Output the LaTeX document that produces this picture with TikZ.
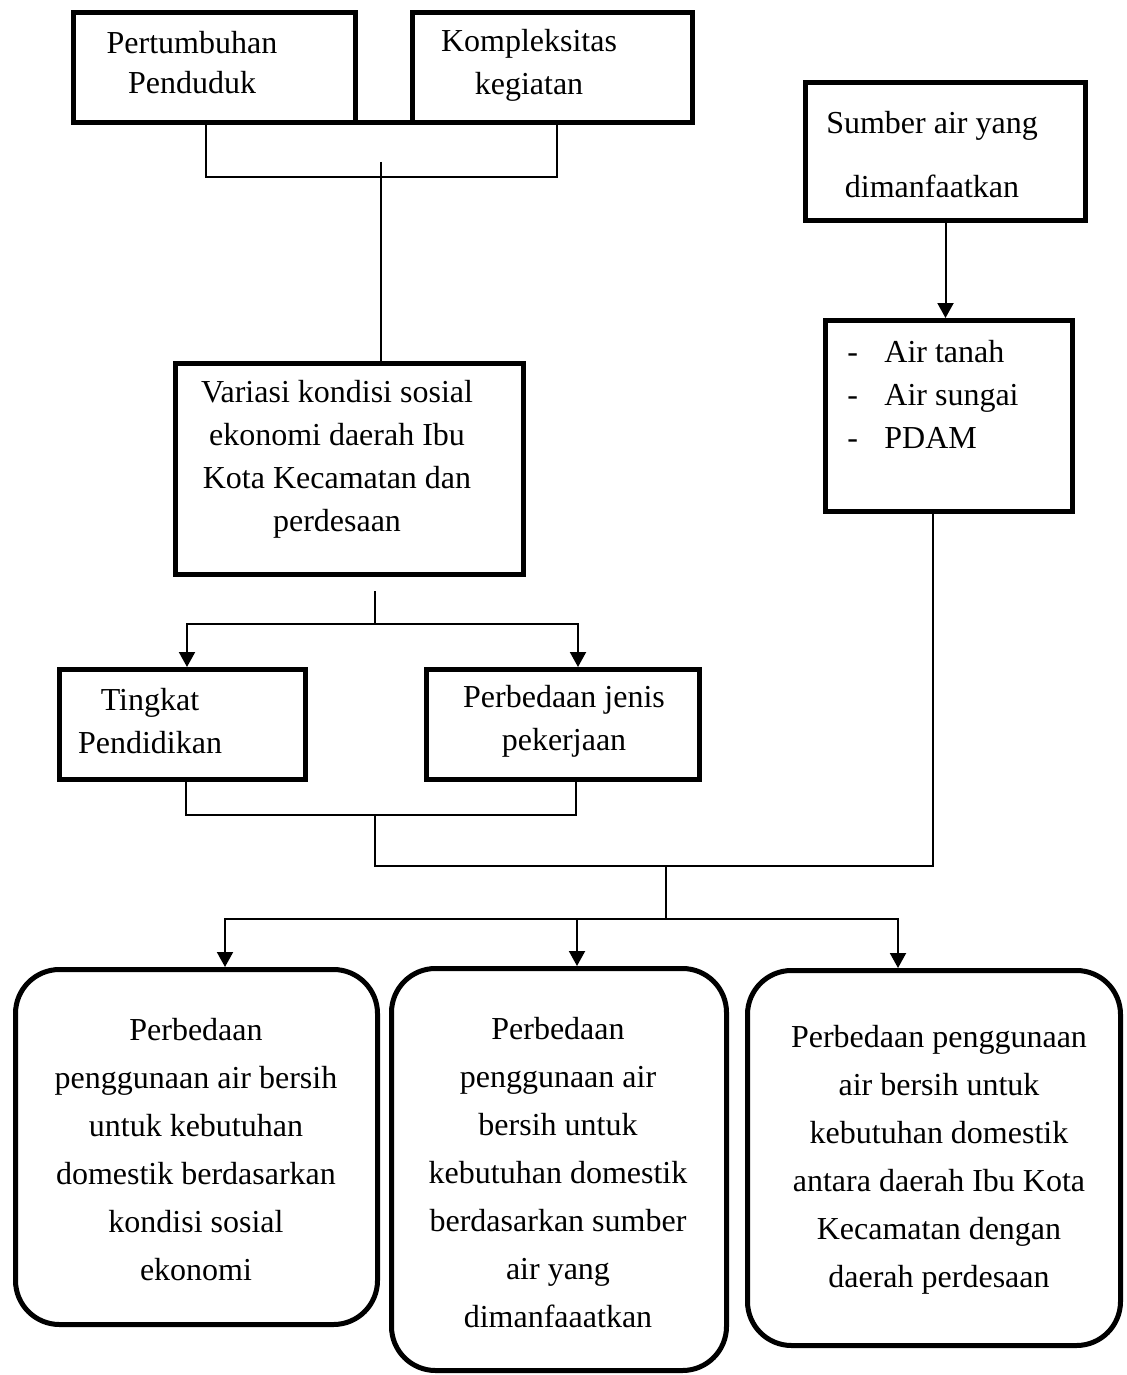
\documentclass[tikz,border=0pt]{standalone}
\usepackage{fontspec}
\setmainfont{Liberation Serif}
\usepackage{tikz}
\usetikzlibrary{arrows.meta,calc}

\begin{document}
\begin{tikzpicture}[
    x=0.5pt, y=-0.5pt,
    % kotak bergaris tebal dan teksnya
    box/.style={draw, line width=2.5pt, inner sep=0pt},
    rbox/.style={box, rounded corners=22pt},
    txt/.style={align=center, inner sep=0pt, font=\fontsize{16}{21.5}\selectfont},
    ln/.style={line width=1pt},
    arr/.style={-{Triangle[length=7.5pt,width=8pt]}, line width=1pt}
]
\useasboundingbox (0,0) rectangle (1126,1375);

% Baris atas: dua faktor penyebab
\node[box, minimum width=141pt, minimum height=55pt] (pop) at (214.5,67.5) {};
\node[txt, font=\fontsize{16}{20}\selectfont] (pop-t) at (192,63) {Pertumbuhan\\Penduduk};
\node[box, minimum width=140pt, minimum height=55pt] (keg) at (552.5,67.5) {};
\node[txt] (keg-t) at (529,65) {Kompleksitas\\kegiatan};
\draw[line width=2.5pt] ([yshift=1.25pt]pop.south east) -- ([yshift=1.25pt]keg.south west);

% Kolom kanan: sumber air
\node[box, minimum width=140pt, minimum height=69pt] (sumber) at (945.5,151.5) {};
\node[txt, font=\fontsize{16}{32}\selectfont] (sumber-t) at (932,155) {Sumber air yang\\dimanfaatkan};
\node[box, minimum width=123.5pt, minimum height=95.5pt] (sumberair) at (949,416) {};
\node[txt, align=left, anchor=west] (sumberair-t) at (847,394.5)
    {\makebox[18.5pt][l]{-}Air tanah\\\makebox[18.5pt][l]{-}Air sungai\\\makebox[18.5pt][l]{-}PDAM};

% Kondisi sosial ekonomi
\node[box, minimum width=174pt, minimum height=105.5pt] (var) at (349.5,469) {};
\node[txt] (var-t) at (337,459) {Variasi kondisi sosial\\ekonomi daerah Ibu\\Kota Kecamatan dan\\perdesaan};

\node[box, minimum width=123pt, minimum height=55pt] (pend) at (182.5,724.5) {};
\node[txt] (pend-t) at (150,721) {Tingkat\\Pendidikan};
\node[box, minimum width=136.5pt, minimum height=55pt] (kerja) at (563,724.5) {};
\node[txt] (kerja-t) at (564,721) {Perbedaan jenis\\pekerjaan};

% Baris bawah: hasil
\node[rbox, minimum width=181pt, minimum height=177.5pt] (hasil1) at (196.5,1147) {};
\node[txt, font=\fontsize{16}{24}\selectfont] (hasil1-t) at (196,1150)
    {Perbedaan\\penggunaan air bersih\\untuk kebutuhan\\domestik berdasarkan\\kondisi sosial\\ekonomi};
\node[rbox, minimum width=167.5pt, minimum height=201pt] (hasil2) at (559,1169.5) {};
\node[txt, font=\fontsize{16}{24}\selectfont] (hasil2-t) at (558,1172.5)
    {Perbedaan\\penggunaan air\\bersih untuk\\kebutuhan domestik\\berdasarkan sumber\\air yang\\dimanfaaatkan};
\node[rbox, minimum width=186.5pt, minimum height=187.5pt] (hasil3) at (934,1158) {};
\node[txt, font=\fontsize{16}{24}\selectfont] (hasil3-t) at (939,1160)
    {Perbedaan penggunaan\\air bersih untuk\\kebutuhan domestik\\antara daerah Ibu Kota\\Kecamatan dengan\\daerah perdesaan};

% Titik cabang garis
\coordinate (jtop) at (381,177);
\coordinate (jvar) at (375,624);
\coordinate (jmid) at (375,815);
\coordinate (jjoin) at (375,866);
\coordinate (jsplit) at (666,866);
\coordinate (jout) at (666,919);

% Garis penghubung
\draw[ln] ([xshift=-4.25pt]pop.south) |- (jtop) -| ([xshift=2.25pt]keg.south);
\draw[ln] ([yshift=7.5pt]jtop) -- (jtop |- var.north);
\draw[arr] (sumber.south) -- (sumber.south |- sumberair.north);

\draw[ln] ($(var.south -| jvar)+(0,14)$) -- (jvar);
\draw[arr] (jvar) -| ([xshift=2.25pt]pend.north);
\draw[arr] (jvar) -| ([xshift=7.5pt]kerja.north);

\draw[ln] ([xshift=1.75pt]pend.south) |- (jmid) -| ([xshift=6.5pt]kerja.south);
\draw[ln] (jmid) -- (jjoin) -| ([xshift=-8pt]sumberair.south);
\draw[ln] (jsplit) -- (jout);

\draw[arr] (jout) -| ([xshift=14.25pt]hasil1.north);
\draw[arr] (jout) -| ([xshift=9pt]hasil2.north);
\draw[arr] (jout) -| ([xshift=-18pt]hasil3.north);
\end{tikzpicture}
\end{document}
